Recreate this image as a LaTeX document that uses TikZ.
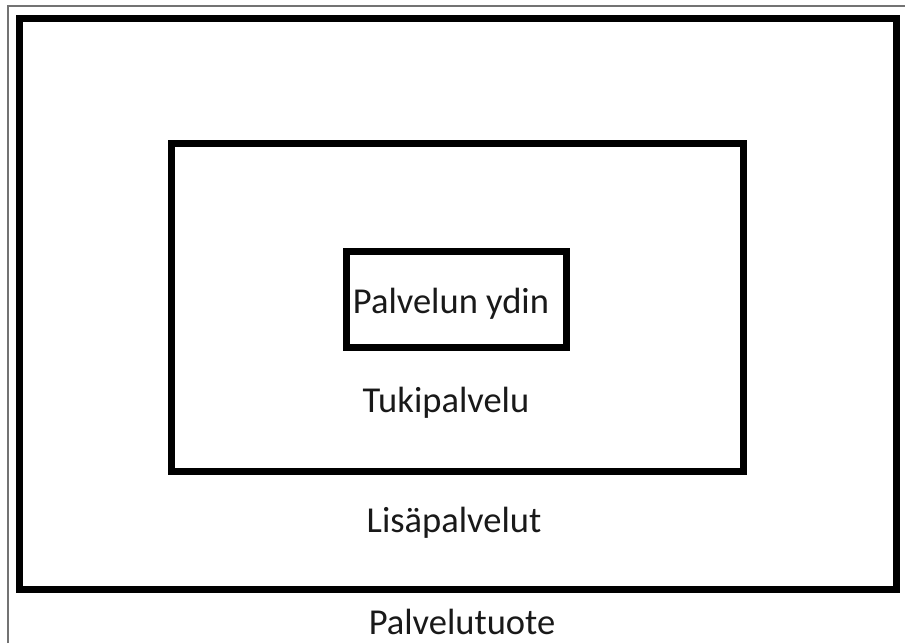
\documentclass[tikz,border=0pt]{standalone}
\usepackage{fontspec}
\setmainfont{Carlito}

\tikzset{
  layer/.style={draw, line width=7pt, inner sep=0pt, rectangle},
  caption/.style={anchor=base, font=\fontsize{36.5}{42}\selectfont, text=black!90},
}

\begin{document}
\begin{tikzpicture}[x=1pt, y=-1pt]
  \useasboundingbox (0,0) rectangle (905,643);
  % thin frame round the figure
  \draw[black!55, line width=1.5pt] (8,643) -- (8,6) -- (905,6);

  % the three layers of the service
  \node[layer, minimum width=877pt, minimum height=571pt] (product) at (457.5,303.5) {};
  \node[layer, minimum width=572pt, minimum height=328pt] (support) at (457,307) {};
  \node[layer, minimum width=220pt, minimum height=96pt] (core) at (456,299) {};

  % labels
  \node[caption] (corelbl) at (451,313) {Palvelun ydin};
  \node[caption] (supportlbl) at (446,412) {Tukipalvelu};
  \node[caption] (extralbl) at (454,532) {Lisäpalvelut};
  \node[caption, inner sep=0pt] (productlbl) at (462,634) {Palvelutuote};
\end{tikzpicture}
\end{document}
